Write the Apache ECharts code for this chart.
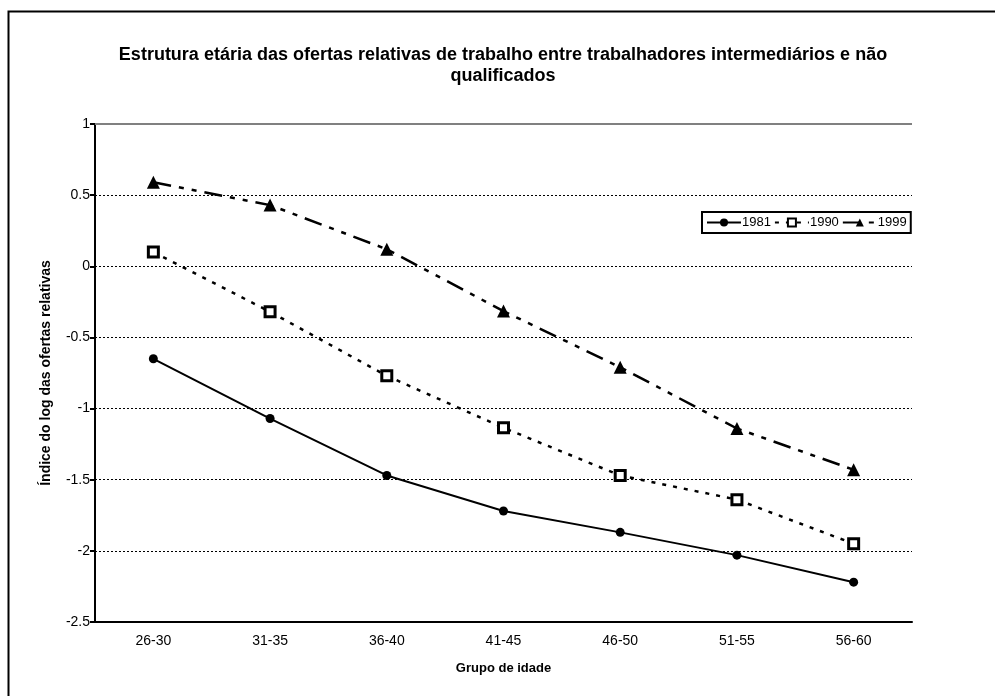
<!DOCTYPE html>
<html>
<head>
<meta charset="utf-8">
<script src="https://cdn.jsdelivr.net/npm/echarts@6/dist/echarts.min.js"></script>
<style>
    html, body { margin: 0; padding: 0; background: #fff; }
    #chart { width: 995px; height: 696px; }
</style>
</head>
<body>
<div id="chart"></div>
<script>
const categories = ["26-30", "31-35", "36-40", "41-45", "46-50", "51-55", "56-60"];
const values1981 = [-0.65, -1.07, -1.47, -1.72, -1.87, -2.03, -2.22];
const values1990 = [0.1, -0.32, -0.77, -1.135, -1.47, -1.64, -1.95];
const values1999 = [0.59, 0.43, 0.12, -0.315, -0.71, -1.14, -1.43];

const FONT = "Liberation Sans, Arial, sans-serif";

const chart = echarts.init(document.getElementById("chart"));

chart.setOption({

    animation: false,
    backgroundColor: "#fff",

    title: {
        text: "Estrutura etária das ofertas relativas de trabalho entre trabalhadores intermediários e não\nqualificados",
        left: 498,
        textAlign: "center",
        top: 40,
        textStyle: {
            fontFamily: FONT,
            fontSize: 18,
            fontWeight: "bold",
            color: "#000",
            lineHeight: 21
        }
    },

    graphic: [{
        type: "rect",
        left: 6,
        top: 9,
        z: 10,
        shape: { width: 1000, height: 700 },
        style: { fill: "none", stroke: "#000", lineWidth: 2 }
    }, {
        type: "line",
        z: 10,
        shape: { x1: 95, y1: 124, x2: 912, y2: 124 },
        style: { stroke: "#808080", lineWidth: 2 }
    }],

    legend: {
        left: 702,
        top: 212,
        itemGap: 3,
        itemWidth: 34,
        itemHeight: 10,
        padding: [4, 4, 4, 4],
        borderColor: "#000",
        borderWidth: 2,
        textStyle: {
            fontFamily: FONT,
            fontSize: 13,
            color: "#000",
            padding: [0, 0, 0, -4]
        },
        data: ["1981", "1990", "1999"]
    },

    grid: {
        left: 95,
        right: 83,
        top: 124,
        bottom: 74
    },

    xAxis: {
        type: "category",
        data: categories,
        boundaryGap: true,
        name: "Grupo de idade",
        nameLocation: "middle",
        nameGap: 40,
        nameMoveOverlap: false,
        nameTextStyle: {
            fontFamily: FONT,
            fontSize: 13,
            fontWeight: "bold",
            color: "#000"
        },
        axisLine: { onZero: false, lineStyle: { color: "#000", width: 2 } },
        axisTick: { length: 5, lineStyle: { color: "#000", width: 2 } },
        axisLabel: {
            fontFamily: FONT,
            fontSize: 14,
            color: "#000",
            margin: 12
        }
    },

    yAxis: {
        type: "value",
        min: -2.5,
        max: 1,
        interval: 0.5,
        name: "Índice do log das ofertas relativas",
        nameLocation: "middle",
        nameGap: 42,
        nameMoveOverlap: false,
        nameTextStyle: {
            fontFamily: FONT,
            fontSize: 14,
            fontWeight: "bold",
            color: "#000"
        },
        axisLine: { show: true, onZero: false, lineStyle: { color: "#000", width: 2 } },
        axisTick: { show: true, length: 5, lineStyle: { color: "#000", width: 2 } },
        axisLabel: {
            fontFamily: FONT,
            fontSize: 14,
            color: "#000",
            margin: 5
        },
        splitLine: {
            lineStyle: { color: "#000", width: 1, type: [2, 2] }
        }
    },

    series: [{
        name: "1981",
        type: "line",
        data: values1981,
        symbol: "circle",
        symbolSize: 9,
        itemStyle: { color: "#000" },
        lineStyle: { color: "#000", width: 2 }
    }, {
        name: "1990",
        type: "line",
        data: values1990,
        symbol: "rect",
        symbolSize: 10,
        itemStyle: { color: "#fff", borderColor: "#000", borderWidth: 3 },
        lineStyle: { color: "#000", width: 2.5, type: [4, 7] }
    }, {
        name: "1999",
        type: "line",
        data: values1999,
        symbol: "triangle",
        symbolSize: 13,
        itemStyle: { color: "#000" },
        lineStyle: { color: "#000", width: 2.5, type: [18, 8, 5, 8, 5, 8] }
    }]

});
</script>
</body>
</html>
